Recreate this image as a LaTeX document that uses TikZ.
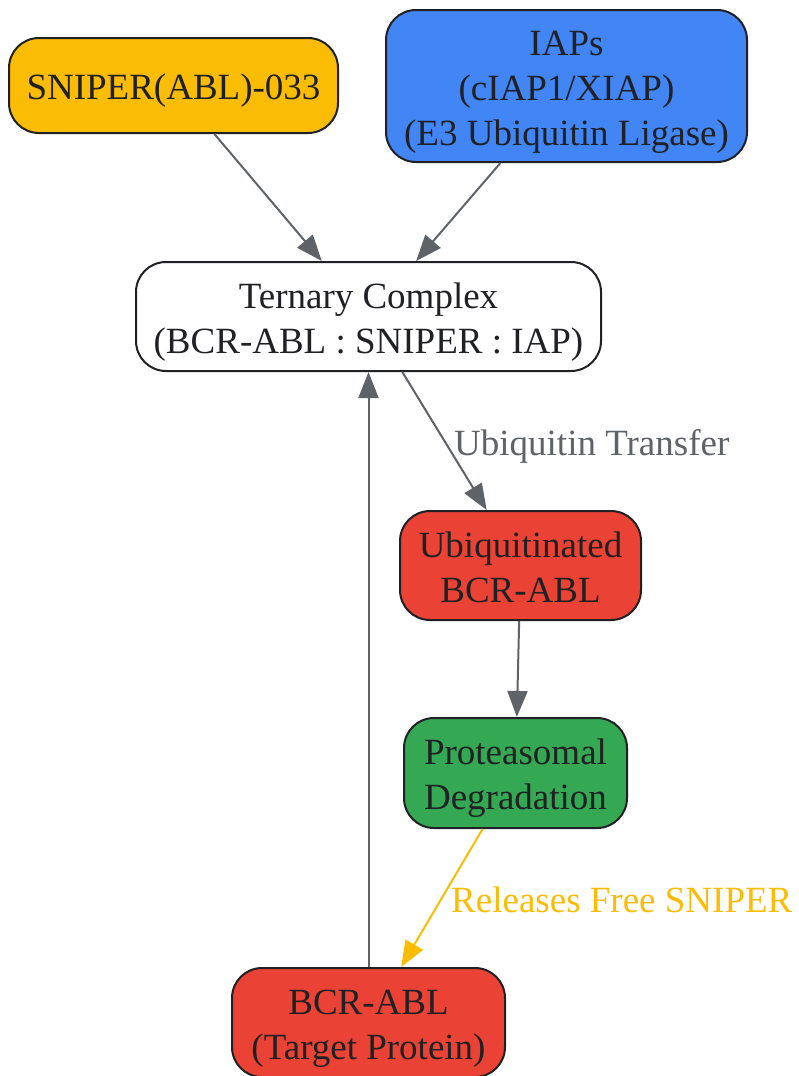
\documentclass[tikz,border=0pt]{standalone}
\usepackage{fontspec}
\setmainfont{Liberation Serif}
\usetikzlibrary{arrows.meta}
\definecolor{gEdge}{HTML}{5F6368}
\definecolor{gYellow}{HTML}{FBBC05}
\definecolor{gBlue}{HTML}{4285F4}
\definecolor{gRed}{HTML}{EA4335}
\definecolor{gGreen}{HTML}{34A853}
\definecolor{gText}{HTML}{202124}
\newcommand{\bt}[1]{\raisebox{-5pt}[\height][\depth]{\begin{tabular}{@{}c@{}}#1\end{tabular}}}
\tikzset{
  box/.style={draw=gText, line width=2pt, rounded corners=30pt,
    text=gText, inner sep=0pt, font=\fontsize{37}{45}\selectfont},
  conn/.style={draw=gEdge, line width=2pt, -{Triangle[length=26pt,width=20pt]}},
  lbl/.style={font=\fontsize{37}{45}\selectfont, anchor=base west, inner sep=0pt}
}
\begin{document}
\begin{tikzpicture}[x=1pt,y=-1pt]
\useasboundingbox (0,0) rectangle (798,1076);
\node[box, fill=gYellow, minimum width=329pt, minimum height=95pt] (sniper) at (173.5,85.5) {\bt{SNIPER(ABL)-033}};
\node[box, fill=gBlue, minimum width=361pt, minimum height=152pt] (iap) at (566.5,86) {\bt{IAPs\\(cIAP1/XIAP)\\(E3 Ubiquitin Ligase)}};
\node[box, fill=white, minimum width=465pt, minimum height=109pt] (tern) at (368.5,316.5) {\bt{Ternary Complex\\(BCR-ABL : SNIPER : IAP)}};
\node[box, fill=gRed, minimum width=241pt, minimum height=109pt] (ubq) at (520.5,565.5) {\bt{Ubiquitinated\\BCR-ABL}};
\node[box, fill=gGreen, minimum width=223pt, minimum height=110pt] (prot) at (515.5,773) {\bt{Proteasomal\\Degradation}};
\node[box, fill=gRed, minimum width=273pt, minimum height=109pt] (bcr) at (368.5,1022.5) {\bt{BCR-ABL\\(Target Protein)}};
\draw[conn] (sniper) -- (tern);
\draw[conn] (iap) -- (tern);
\draw[conn] (tern) -- (ubq);
\draw[conn] (ubq) -- (prot);
\draw[conn, draw=gYellow] (prot) -- (bcr);
\draw[conn] (bcr) -- (tern);
\node[lbl, text=gEdge] (l1) at (454,455) {Ubiquitin Transfer};
\node[lbl, text=gYellow] (l2) at (451,912) {Releases Free SNIPER};
\end{tikzpicture}
\end{document}
